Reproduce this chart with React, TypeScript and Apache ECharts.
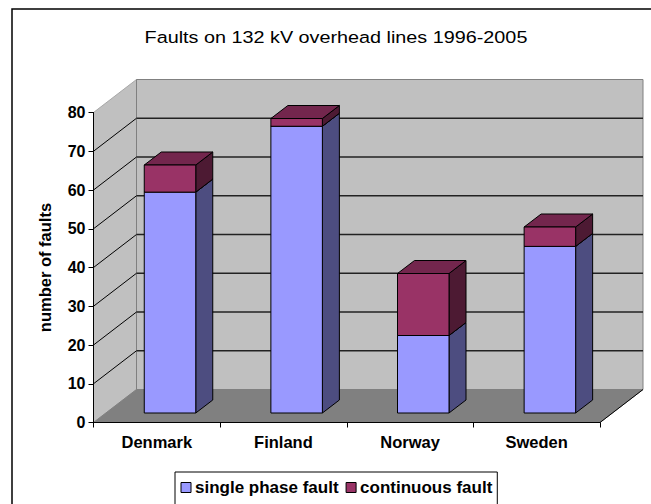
import React, { useEffect, useRef } from "react";
import * as echarts from "echarts";

const categories = ["Denmark", "Finland", "Norway", "Sweden"];
const singlePhase = [57, 74, 20, 43];
const continuous = [7, 2, 16, 5];
const yTicks = [0, 10, 20, 30, 40, 50, 60, 70, 80];

const DEPTH = { x: 43, y: -33 };
const BAR_OFFSET = { x: 13.2, y: -9.5 };
const BAR_DEPTH = { x: 17, y: -13 };
const BAR_WIDTH = 51.5;

const FONT = "'Liberation Sans', Arial, sans-serif";

const poly = (points: number[][], fill: string, stroke: string, lineWidth = 1) => ({
  type: "polygon",
  shape: { points },
  style: { fill, stroke, lineWidth },
});

const line = (a: number[], b: number[], stroke: string, lineWidth = 1) => ({
  type: "line",
  shape: { x1: a[0], y1: a[1], x2: b[0], y2: b[1] },
  style: { stroke, lineWidth },
});

export default function App() {
  const ref = useRef<HTMLDivElement>(null);
  useEffect(() => {
    document.body.style.margin = "0";
    const chart = echarts.init(ref.current!, undefined, { renderer: "svg" });

    const wallsRender = (_p: any, api: any) => {
      const cs = _p.coordSys;
      const l = cs.x;
      const r = cs.x + cs.width;
      const y0 = api.coord([0, 0])[1];
      const yTop = api.coord([0, 80])[1];
      const children: any[] = [
        poly([[l, yTop], [l + DEPTH.x, yTop + DEPTH.y], [l + DEPTH.x, y0 + DEPTH.y], [l, y0]], "#c0c0c0", "#a8a8a8"),
        poly([[l + DEPTH.x, yTop + DEPTH.y], [r + DEPTH.x, yTop + DEPTH.y], [r + DEPTH.x, y0 + DEPTH.y], [l + DEPTH.x, y0 + DEPTH.y]], "#c0c0c0", "#808080"),
        poly([[l, y0], [r, y0], [r + DEPTH.x, y0 + DEPTH.y], [l + DEPTH.x, y0 + DEPTH.y]], "#808080", "#808080"),
        line([r, y0], [r + DEPTH.x, y0 + DEPTH.y], "#000000"),
      ];
      yTicks.forEach((t) => {
        if (t === 0 || t === 80) return;
        const y = api.coord([0, t])[1];
        children.push(line([l, y], [l + DEPTH.x, y + DEPTH.y], "#000000"));
        children.push(line([l + DEPTH.x, y + DEPTH.y], [r + DEPTH.x, y + DEPTH.y], "#222222", 1.4));
      });
      return { type: "group", children };
    };

    const barRender = (front: string, top: string, side: string) => (_p: any, api: any) => {
      const cat = api.value(0);
      const base = api.coord([cat, api.value(1)]);
      const head = api.coord([cat, api.value(2)]);
      const xL = base[0] + BAR_OFFSET.x - BAR_WIDTH / 2;
      const xR = xL + BAR_WIDTH;
      const yB = base[1] + BAR_OFFSET.y;
      const yT = head[1] + BAR_OFFSET.y;
      const d = BAR_DEPTH;
      return {
        type: "group",
        children: [
          poly([[xR, yB], [xR + d.x, yB + d.y], [xR + d.x, yT + d.y], [xR, yT]], side, "#000000"),
          poly([[xL, yT], [xR, yT], [xR + d.x, yT + d.y], [xL + d.x, yT + d.y]], top, "#000000"),
          poly([[xL, yB], [xR, yB], [xR, yT], [xL, yT]], front, "#000000"),
        ],
      };
    };

    chart.setOption({
      animation: false,
      backgroundColor: "#ffffff",
      grid: { left: 93.5, right: 51, top: 112.5, bottom: 81.5 },
      legend: {
        left: 175,
        top: 472,
        orient: "horizontal",
        padding: [7, 5, 9, 5.5],
        borderColor: "#000",
        borderWidth: 1,
        backgroundColor: "#fff",
        itemWidth: 10,
        itemHeight: 10,
        itemGap: 7,
        icon: "rect",
        textStyle: { fontFamily: FONT, fontSize: 17, lineHeight: 17, height: 17, fontWeight: "bold", color: "#000", padding: [0, 0, 0, -1] },
        data: [
          { name: "single phase fault", itemStyle: { color: "#9999ff", borderColor: "#000", borderWidth: 1 } },
          { name: "continuous fault", itemStyle: { color: "#993366", borderColor: "#000", borderWidth: 1 } },
        ],
      },
      xAxis: {
        type: "category",
        data: categories,
        boundaryGap: true,
        axisLine: { lineStyle: { color: "#000" } },
        axisTick: { show: true, length: 5, lineStyle: { color: "#000" } },
        axisLabel: { fontFamily: FONT, fontSize: 16.5, fontWeight: "bold", color: "#000", margin: 11 },
      },
      yAxis: {
        type: "value",
        min: 0,
        max: 80,
        interval: 10,
        name: "number of faults",
        nameLocation: "middle",
        nameGap: 40,
        nameTextStyle: { fontFamily: FONT, fontSize: 16.5, fontWeight: "bold", color: "#000" },
        splitLine: { show: false },
        axisLine: { show: true, lineStyle: { color: "#000" } },
        axisTick: { show: true, length: 5, lineStyle: { color: "#000" } },
        axisLabel: { fontFamily: FONT, fontSize: 16, fontWeight: "bold", color: "#000", margin: 8 },
      },
      graphic: [
        {
          type: "rect",
          z: -1,
          shape: { x: 12, y: 9, width: 700, height: 560 },
          style: { fill: "#fff", stroke: "#000", lineWidth: 1.5 },
        },
        {
          type: "text",
          x: 336,
          y: 37,
          scaleX: 1.165,
          style: {
            text: "Faults on 132 kV overhead lines 1996-2005",
            x: 0,
            y: 0,
            textAlign: "center",
            textVerticalAlign: "middle",
            fontFamily: FONT,
            fontSize: 17,
            fill: "#000",
          },
        },
      ],
      series: [
        {
          type: "custom",
          name: "walls",
          z: 0,
          clip: false,
          silent: true,
          renderItem: wallsRender,
          data: [[0, 0, 80]],
          encode: { x: 0, y: [1, 2] },
        },
        {
          type: "custom",
          name: "single phase fault",
          z: 1,
          clip: false,
          itemStyle: { color: "#9999ff" },
          renderItem: barRender("#9999ff", "#73738f", "#4d4d80"),
          data: singlePhase.map((v, i) => [i, 0, v]),
          encode: { x: 0, y: [1, 2] },
        },
        {
          type: "custom",
          name: "continuous fault",
          z: 2,
          clip: false,
          itemStyle: { color: "#993366" },
          renderItem: barRender("#993366", "#73264d", "#4d1a33"),
          data: continuous.map((v, i) => [i, singlePhase[i], singlePhase[i] + v]),
          encode: { x: 0, y: [1, 2] },
        },
      ],
    });
    return () => chart.dispose();
  }, []);
  return <div ref={ref} style={{ width: 651, height: 504 }} />;
}
